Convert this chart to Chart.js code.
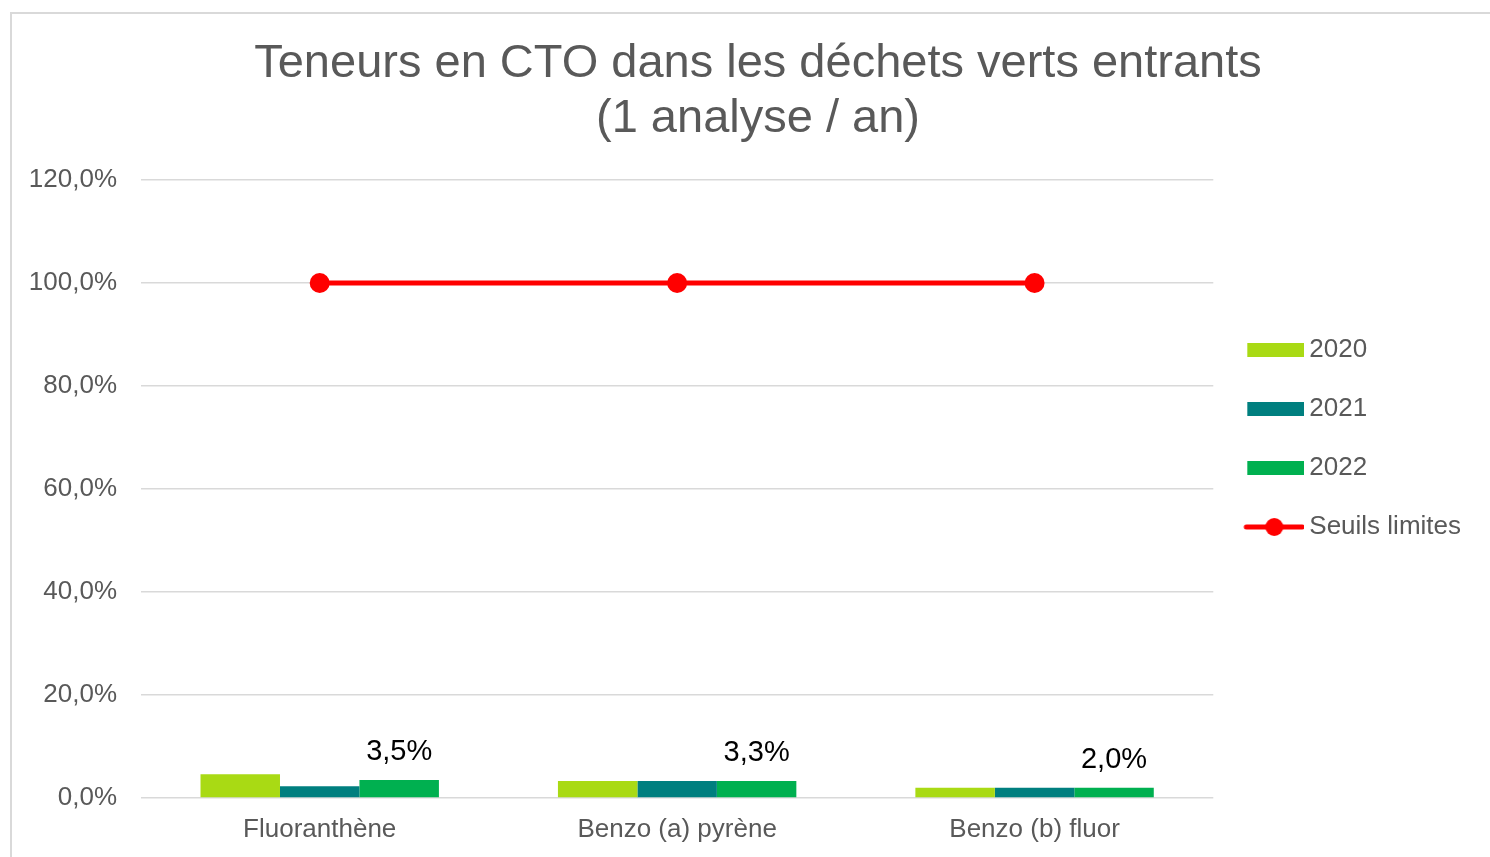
<!DOCTYPE html>
<html>
<head>
<meta charset="utf-8">
<script src="https://cdn.jsdelivr.net/npm/chart.js@4/dist/chart.umd.min.js"></script>
<style>
  html, body { margin: 0; padding: 0; background: #fff; }
  #frame { position: absolute; left: 10px; top: 12px; width: 1500px; height: 860px; border: 2px solid #d9d9d9; box-sizing: border-box; }
  #c { position: absolute; left: 0; top: 0; }
</style>
</head>
<body>
<div id="frame"></div>
<canvas id="c" width="1490" height="857"></canvas>
<script>
// data
const categories = ['Fluoranthène', 'Benzo (a) pyrène', 'Benzo (b) fluor'];
const years = ['2020', '2021', '2022'];
const val2020 = [4.6, 3.3, 2.0];
const val2021 = [2.3, 3.3, 2.0];
const val2022 = [3.5, 3.3, 2.0];
const seuils = [100, 100, 100];
const yTicks = [0, 20, 40, 60, 80, 100, 120];

const barColors = ['#A9DA14', '#007F7F', '#00B050'];
const lineColor = '#FF0000';
const grey = '#595959';
const font = "'Liberation Sans', Arial, sans-serif";

function pct(v) {
  return v.toFixed(1).replace('.', ',') + '%';
}

// legend icons (drawn on small canvases)
function rectIcon(color) {
  const cv = document.createElement('canvas');
  cv.width = 66; cv.height = 14;
  const g = cv.getContext('2d');
  g.fillStyle = color;
  g.fillRect(9, 0, 57, 14);
  return cv;
}
function lineIcon(color) {
  const cv = document.createElement('canvas');
  cv.width = 66; cv.height = 20;
  const g = cv.getContext('2d');
  g.strokeStyle = color;
  g.lineWidth = 5;
  g.lineCap = 'round';
  g.beginPath();
  g.moveTo(8, 10);
  g.lineTo(64, 10);
  g.stroke();
  g.fillStyle = color;
  g.beginPath();
  g.arc(36, 10, 9, 0, Math.PI * 2);
  g.fill();
  return cv;
}
const legendIcons = [rectIcon(barColors[0]), rectIcon(barColors[1]), rectIcon(barColors[2]), lineIcon(lineColor)];

// labels on top of the 2022 bars
const valueLabels = {
  id: 'valueLabels',
  afterDatasetsDraw(chart) {
    const meta = chart.getDatasetMeta(2);
    const ctx = chart.ctx;
    ctx.save();
    ctx.font = '29px ' + font;
    ctx.fillStyle = '#000';
    ctx.textAlign = 'center';
    ctx.textBaseline = 'middle';
    meta.data.forEach((bar, i) => {
      ctx.fillText(pct(val2022[i]), bar.x, bar.y - 28);
    });
    ctx.restore();
  }
};

// title is centred on the outer frame, not on the canvas
const titleShift = {
  id: 'titleShift',
  afterLayout(chart) {
    chart.titleBlock.left += 19;
  }
};

const ctx = document.getElementById('c').getContext('2d');
new Chart(ctx, {
  type: 'bar',
  data: {
    labels: categories,
    datasets: [
      { label: years[0], data: val2020, backgroundColor: barColors[0], borderWidth: 0 },
      { label: years[1], data: val2021, backgroundColor: barColors[1], borderWidth: 0 },
      { label: years[2], data: val2022, backgroundColor: barColors[2], borderWidth: 0 },
      {
        type: 'line', label: 'Seuils limites', data: seuils,
        borderColor: lineColor, backgroundColor: lineColor, borderWidth: 5,
        pointRadius: 10, pointBackgroundColor: lineColor, pointBorderWidth: 0, fill: false
      }
    ]
  },
  options: {
    responsive: false,
    animation: false,
    categoryPercentage: 0.667,
    barPercentage: 1.0,
    layout: { padding: { left: 26, right: 19, top: 15, bottom: -5 } },
    plugins: {
      tooltip: { enabled: false },
      title: {
        display: true,
        text: ['Teneurs en CTO dans les déchets verts entrants', '(1 analyse / an)'],
        color: grey,
        font: { family: font, size: 47, weight: 'normal', lineHeight: 1.17 },
        padding: { top: 21.5, bottom: 33.5 }
      },
      legend: {
        position: 'right',
        labels: {
          usePointStyle: true,
          pointStyleWidth: 50,
          padding: 33,
          color: grey,
          font: { family: font, size: 26 },
          generateLabels(chart) {
            const items = Chart.defaults.plugins.legend.labels.generateLabels(chart);
            items.forEach(it => { it.pointStyle = legendIcons[it.datasetIndex]; });
            return items;
          }
        }
      }
    },
    scales: {
      x: {
        grid: { display: false, drawTicks: false },
        border: { display: false },
        ticks: {
          color: grey,
          padding: 16,
          font: { family: font, size: 26, lineHeight: 1.23 }
        }
      },
      y: {
        min: 0,
        max: 120,
        afterBuildTicks(axis) { axis.ticks = yTicks.map(v => ({ value: v })); },
        afterFit(axis) { axis.width = 115; },
        grid: { color: '#d9d9d9', lineWidth: 1.5, drawTicks: false },
        border: { display: false },
        ticks: {
          color: grey,
          padding: 24,
          font: { family: font, size: 26 },
          callback: v => pct(v)
        }
      }
    }
  },
  plugins: [valueLabels, titleShift]
});
</script>
</body>
</html>
